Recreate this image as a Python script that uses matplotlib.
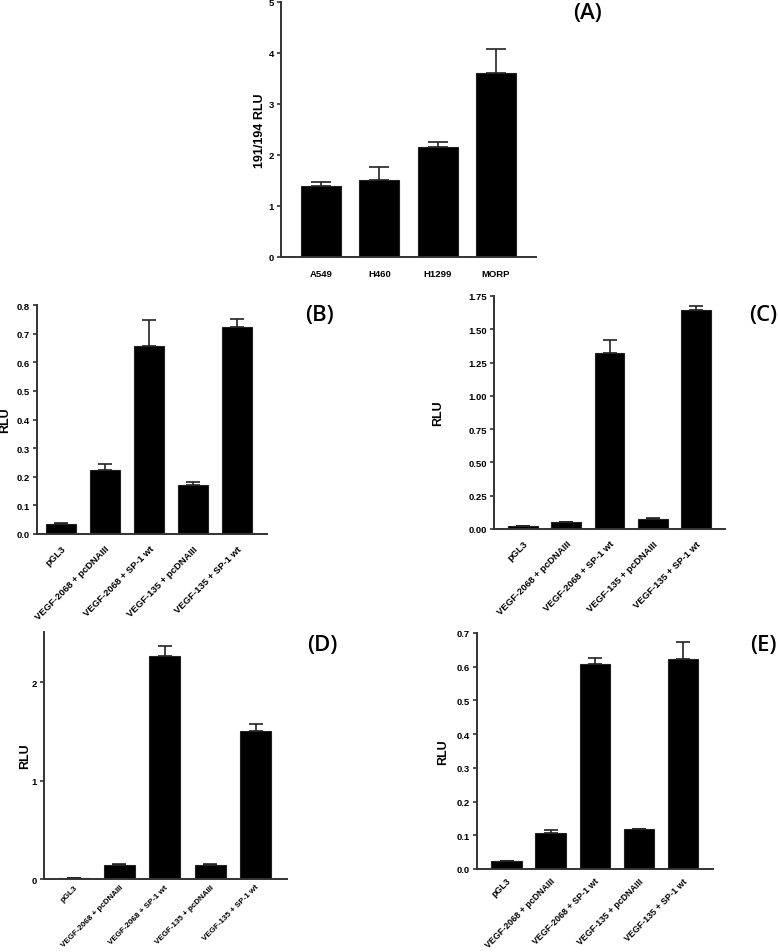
import matplotlib
matplotlib.use("Agg")
import matplotlib.pyplot as plt
import matplotlib.transforms as mtransforms
import numpy as np

plt.rcParams['font.family'] = ['Liberation Sans', 'DejaVu Sans']

# panel A
cells = ["A549", "H460", "H1299", "MORP"]
a_vals = [1.40, 1.51, 2.15, 3.60]
a_err = [0.07, 0.25, 0.11, 0.47]

# panels B-E share the same constructs
constructs = ["pGL3", "VEGF-2068 + pcDNAIII", "VEGF-2068 + SP-1 wt",
              "VEGF-135 + pcDNAIII", "VEGF-135 + SP-1 wt"]
b_vals = [0.035, 0.225, 0.658, 0.170, 0.722]
b_err = [0.003, 0.020, 0.090, 0.012, 0.028]
c_vals = [0.022, 0.052, 1.32, 0.078, 1.645]
c_err = [0.002, 0.003, 0.10, 0.004, 0.030]
d_vals = [0.01, 0.14, 2.27, 0.14, 1.50]
d_err = [0.002, 0.008, 0.10, 0.008, 0.08]
e_vals = [0.024, 0.108, 0.607, 0.118, 0.622]
e_err = [0.001, 0.008, 0.020, 0.002, 0.050]

W, H = 778, 953
fig = plt.figure(figsize=(W / 100, H / 100), dpi=100)


def px_axes(x0, x1, ytop, ybot):
    return fig.add_axes([x0 / W, 1 - ybot / H, (x1 - x0) / W, (ybot - ytop) / H])


def panel(ax, labels, vals, errs, ylim, yticks, fmt, xlim, capsize, label_x,
          rotate=True, ylabel="RLU", shift=-6, xfs=6.8, xpad=7):
    x = np.arange(len(vals))
    ax.bar(x, vals, width=0.69, color="black", edgecolor="#222222", linewidth=0.8,
           zorder=2)
    ax.errorbar(x, vals, yerr=[np.zeros(len(errs)), errs], fmt="none",
                ecolor="#222222", elinewidth=1.2, capsize=capsize, capthick=1.2,
                zorder=1)
    ax.set_xlim(*xlim)
    ax.set_ylim(*ylim)
    ax.set_yticks(yticks)
    ax.set_yticklabels([fmt.format(t) for t in yticks], fontsize=6.8,
                       fontweight="bold")
    ax.set_xticks(x)
    if rotate:
        ax.set_xticklabels(labels, rotation=45, ha="right", rotation_mode="anchor",
                           fontsize=xfs, fontweight="bold")
        off = mtransforms.ScaledTranslation(shift / 100, 0, fig.dpi_scale_trans)
        for t in ax.get_xticklabels():
            t.set_transform(t.get_transform() + off)
    else:
        ax.set_xticklabels(labels, fontsize=xfs, fontweight="bold")
    ax.tick_params(axis="x", length=0, pad=xpad)
    ax.tick_params(axis="y", length=3, width=1.2, color="#333333", pad=2)
    for s in ["top", "right"]:
        ax.spines[s].set_visible(False)
    for s in ["left", "bottom"]:
        ax.spines[s].set_color("#333333")
        ax.spines[s].set_linewidth(1.4)
    ax.set_ylabel(ylabel, fontsize=9, fontweight="bold", va="center")
    # place the label centre at a pixel column
    x0 = ax.get_position().x0 * W
    width = ax.get_position().width * W
    ax.yaxis.set_label_coords((label_x - x0) / width, 0.5)


axA = px_axes(281, 536, 3, 258)
panel(axA, cells, a_vals, a_err, (0, 5), [0, 1, 2, 3, 4, 5], "{:g}",
      (-0.69, 3.69), 7, 260, rotate=False, ylabel="191/194 RLU", xpad=9)

axB = px_axes(37, 267, 306, 535)
panel(axB, constructs, b_vals, b_err, (0, 0.8),
      [0, 0.1, 0.2, 0.3, 0.4, 0.5, 0.6, 0.7, 0.8], "{:.1f}",
      (-0.55, 4.68), 5, 5, shift=-2)

axC = px_axes(494, 725, 297, 530)
panel(axC, constructs, c_vals, c_err, (0, 1.75),
      [0, 0.25, 0.5, 0.75, 1.0, 1.25, 1.5, 1.75], "{:.2f}",
      (-0.67, 4.67), 5, 438)

# bottom panels: labels tucked up a little so they stay on the page
axD = px_axes(44, 287, 633, 880)
panel(axD, constructs, d_vals, d_err, (0, 2.51), [0, 1, 2], "{:g}",
      (-0.66, 4.69), 5, 25, shift=0, xfs=5.8, xpad=3)

axE = px_axes(477, 713, 634, 870)
panel(axE, constructs, e_vals, e_err, (0, 0.7),
      [0, 0.1, 0.2, 0.3, 0.4, 0.5, 0.6, 0.7], "{:.1f}",
      (-0.67, 4.68), 5, 443, shift=-6, xfs=6.4, xpad=5)

# panel letters
for lab, xp, yp in [("(A)", 587, 14), ("(B)", 320, 316), ("(C)", 763, 316),
                    ("(D)", 322, 646), ("(E)", 763, 646)]:
    fig.text(xp / W, 1 - yp / H, lab, fontsize=16, family=["Open Sans", "DejaVu Sans"],
             fontweight="semibold", ha="center", va="center")

fig.savefig("out.png", dpi=100)
